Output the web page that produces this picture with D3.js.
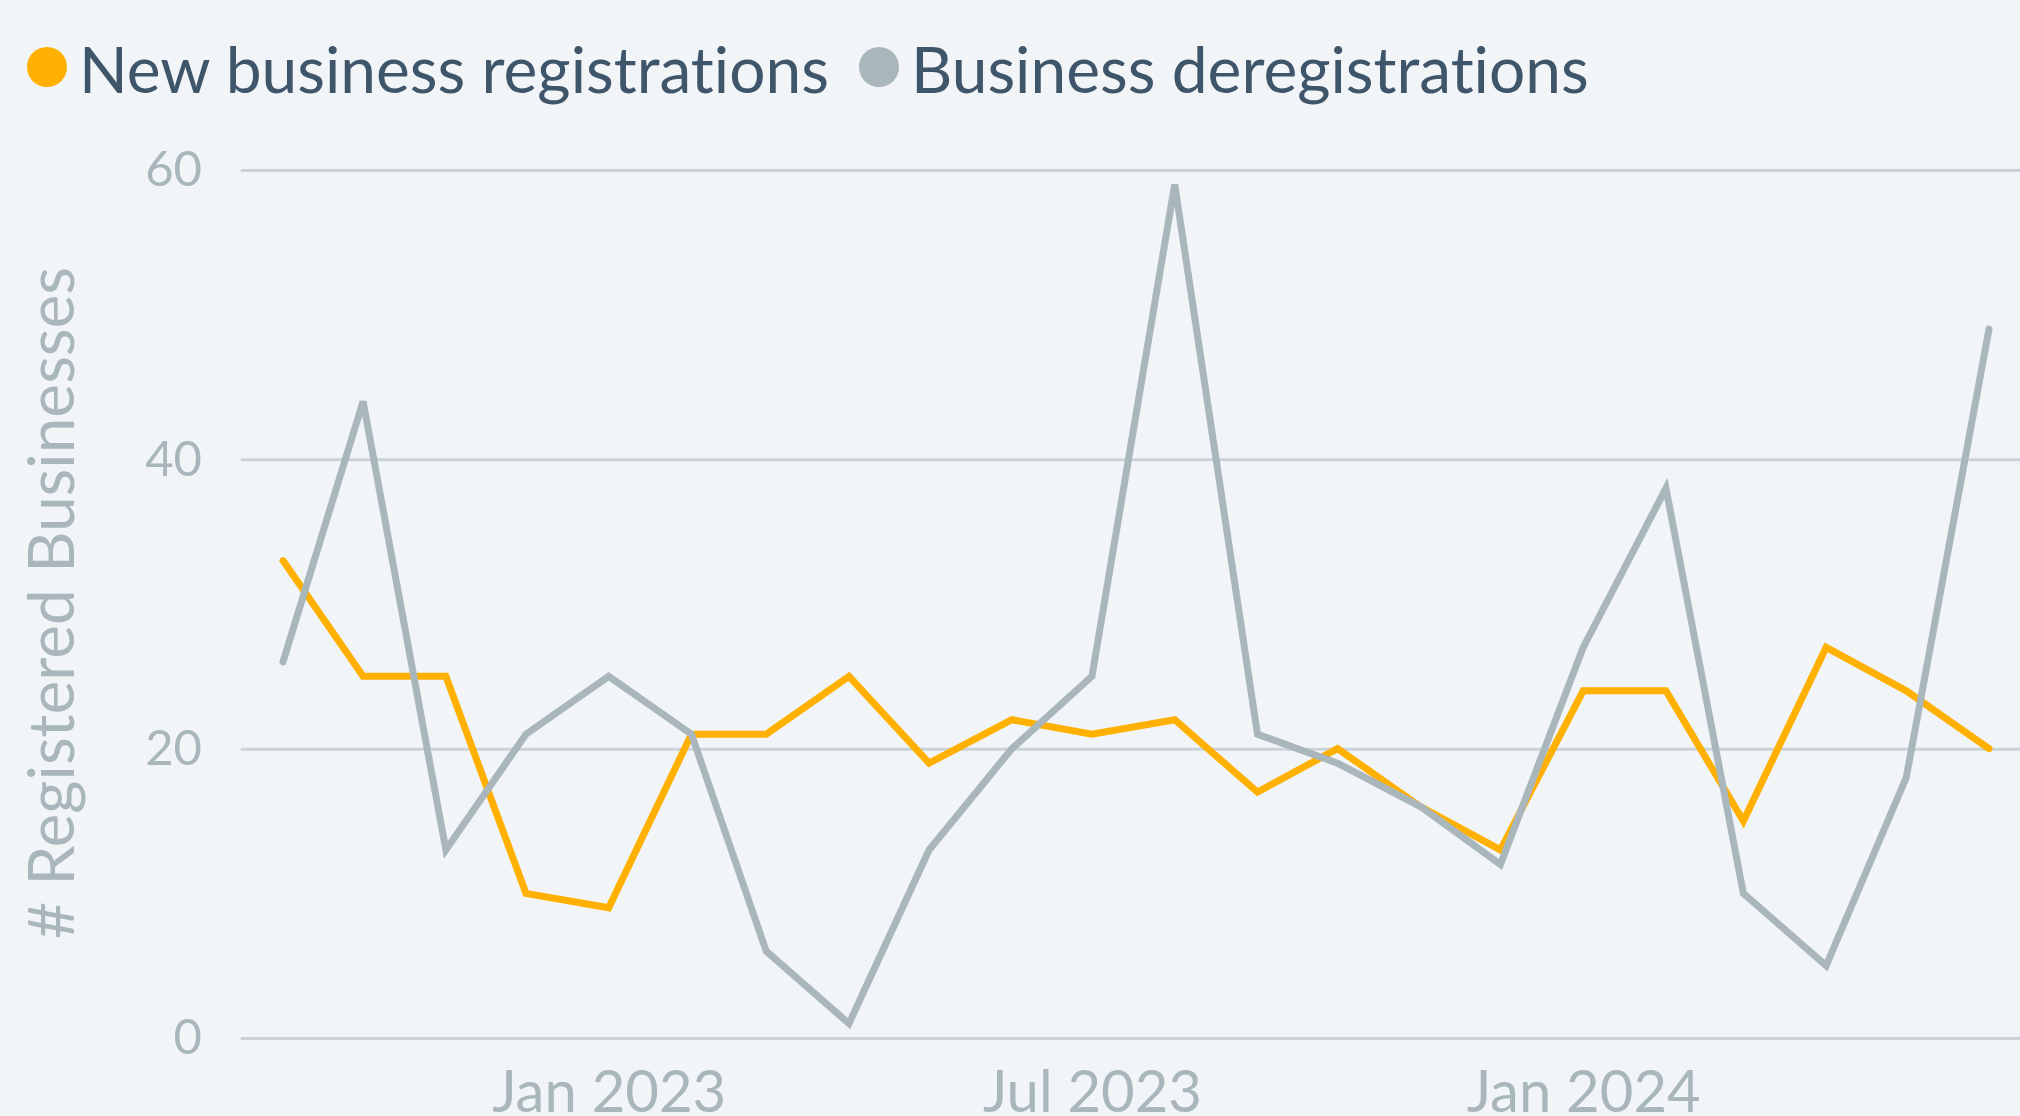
<!DOCTYPE html>
<html>
<head>
<meta charset="utf-8">
<script src="https://cdn.jsdelivr.net/npm/d3@7"></script>
<style>
  body { margin: 0; background: #f1f5f8; }
  svg { display: block; }
  text { font-family: Lato, "Noto Sans", sans-serif; font-variant-ligatures: none; }
</style>
</head>
<body>
<div id="chart"></div>
<script>
// monthly values, Sep 2022 - Jun 2024
const months = ["2022-09","2022-10","2022-11","2022-12","2023-01","2023-02","2023-03","2023-04",
  "2023-05","2023-06","2023-07","2023-08","2023-09","2023-10","2023-11","2023-12",
  "2024-01","2024-02","2024-03","2024-04","2024-05","2024-06"];
const newRegs = [33,25,25,10,9,21,21,25,19,22,21,22,17,20,16,13,24,24,15,27,24,20];
const deregs  = [26,44,13,21,25,21,6,1,13,20,25,59,21,19,16,12,27,38,10,5,18,49];
const seriesNames = ["New business registrations", "Business deregistrations"];
const seriesColors = ["#ffb000", "#a9b6bc"];
const yTicks = [0, 20, 40, 60];

const width = 2020, height = 1116;
const parse = d3.timeParse("%Y-%m");
const dates = months.map(parse);

const svg = d3.select("#chart").append("svg")
    .attr("width", width)
    .attr("height", height);

const x = d3.scaleTime()
    .domain(d3.extent(dates))
    .range([283, 1989]);

const y = d3.scaleLinear()
    .domain([0, 60])
    .range([1038, 170]);

// gridlines + y labels
const yAxis = d3.axisLeft(y).tickValues(yTicks).tickSize(0).tickPadding(0);
const gy = svg.append("g").attr("transform", "translate(202,0)").call(yAxis);
gy.select(".domain").remove();
gy.selectAll("text")
    .attr("fill", "#a9b6bc")
    .attr("font-size", 49)
    .attr("font-family", "Lato, 'Noto Sans', sans-serif");
gy.selectAll(".tick").append("line")
    .attr("x1", 40).attr("x2", width)
    .attr("stroke", "#cad3d8")
    .attr("stroke-width", 3)
    .attr("stroke-linecap", "round");

// x labels (bottom is clipped by the frame, as in the original)
const xAxis = d3.axisBottom(x)
    .ticks(d3.timeMonth.every(6))
    .tickFormat(d3.timeFormat("%b %Y"))
    .tickSize(0)
    .tickPadding(0);
const gx = svg.append("g").attr("transform", "translate(0,1071)").call(xAxis);
gx.select(".domain").remove();
gx.selectAll("text")
    .attr("fill", "#a9b6bc")
    .attr("font-size", 58)
    .attr("dy", "0.71em")
    .attr("font-family", "Lato, 'Noto Sans', sans-serif");

// y title
svg.append("text")
    .attr("transform", "translate(74,603) rotate(-90)")
    .attr("text-anchor", "middle")
    .attr("fill", "#a9b6bc")
    .attr("font-size", 64)
    .text("# Registered Businesses");

// lines
const line = d3.line()
    .x((d, i) => x(dates[i]))
    .y(d => y(d));

[newRegs, deregs].forEach((vals, k) => {
  svg.append("path")
      .datum(vals)
      .attr("d", line)
      .attr("fill", "none")
      .attr("stroke", seriesColors[k])
      .attr("stroke-width", 7)
      .attr("stroke-linecap", "round")
      .attr("stroke-linejoin", "miter");
});

// legend
const legendX = [47, 879];
const legend = svg.append("g");
seriesNames.forEach((name, k) => {
  legend.append("circle")
      .attr("cx", legendX[k]).attr("cy", 67).attr("r", 20)
      .attr("fill", seriesColors[k]);
  legend.append("text")
      .attr("x", legendX[k] + 32).attr("y", 93)
      .attr("fill", "#3f556a")
      .attr("font-size", 64)
      .text(name);
});
</script>
</body>
</html>
